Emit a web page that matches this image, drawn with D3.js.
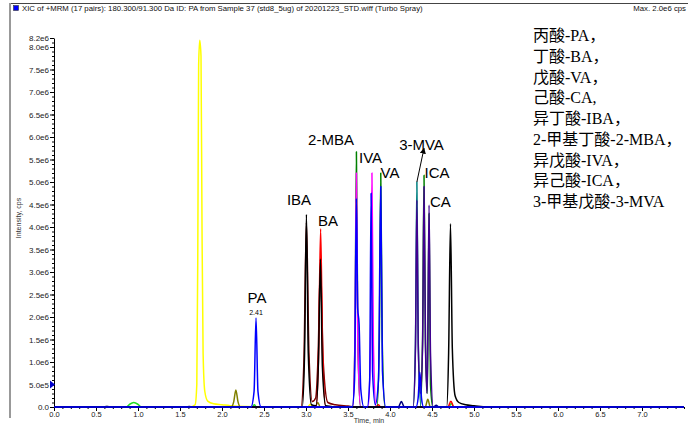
<!DOCTYPE html>
<html>
<head>
<meta charset="utf-8">
<script src="https://cdn.jsdelivr.net/npm/d3@7"></script>
<style>
  body { margin: 0; background: #fff; }
  svg { display: block; }
</style>
</head>
<body>
<svg id="chart" width="688" height="425"></svg>
<script>
// x ticks (min) and y ticks (cps)
var xTickValues = [0, 0.5, 1, 1.5, 2, 2.5, 3, 3.5, 4, 4.5, 5, 5.5, 6, 6.5, 7];
var xTickLabels = ["0.0", "0.5", "1.0", "1.5", "2.0", "2.5", "3.0", "3.5", "4.0", "4.5", "5.0", "5.5", "6.0", "6.5", "7.0"];
var yTickValues = [0, 5e5, 1e6, 1.5e6, 2e6, 2.5e6, 3e6, 3.5e6, 4e6, 4.5e6, 5e6, 5.5e6, 6e6, 6.5e6, 7e6, 7.5e6, 8e6, 8.2e6];
var yTickLabels = ["0.0", "5.0e5", "1.0e6", "1.5e6", "2.0e6", "2.5e6", "3.0e6", "3.5e6", "4.0e6", "4.5e6", "5.0e6", "5.5e6", "6.0e6", "6.5e6", "7.0e6", "7.5e6", "8.0e6", "8.2e6"];

// one XIC trace per colour: [time, intensity]
var grayTrace = [[0,0],[0.6,0],[0.63,0.03e6],[0.66,0],[1.58,0],[1.61,0.02e6],[1.64,0],[7.5,0]];
var yellowTrace = [[0,0],[1.62,0],[1.68,0.05e6],[1.70,0.5e6],[1.712,3.5e6],[1.722,7.6e6],[1.735,8.15e6],[1.75,7.8e6],[1.762,4.0e6],[1.775,1.2e6],[1.795,0.35e6],[1.83,0.13e6],[1.9,0.07e6],[2.0,0.05e6],[2.1,0.03e6],[2.3,0.01e6],[2.5,0],[3.02,0],[3.05,0.06e6],[3.08,0],[7.5,0]];
var oliveTrace = [[0,0],[2.11,0],[2.14,0.12e6],[2.165,0.38e6],[2.19,0.12e6],[2.22,0],[3.11,0],[3.14,0.1e6],[3.17,0],[4.42,0],[4.45,0.17e6],[4.48,0],[7.5,0]];
var limeTrace = [[0,0],[0.86,0],[0.9,0.06e6],[0.95,0.1e6],[1.0,0.06e6],[1.04,0],[2.36,0],[2.385,0.05e6],[2.41,0],[4.70,0],[4.73,0.08e6],[4.76,0],[7.5,0]];
var darkRedTrace = [[0,0],[2.94,0],[2.975,1.0e6],[3.005,4.1e6],[3.035,1.2e6],[3.075,0.12e6],[3.115,0.2e6],[3.145,1.2e6],[3.172,3.2e6],[3.205,1.0e6],[3.26,0.1e6],[3.35,0.05e6],[3.5,0.02e6],[3.6,0],[7.5,0]];
var redTrace = [[0,0],[3.12,0],[3.15,1.2e6],[3.174,3.96e6],[3.198,1.2e6],[3.235,0],[3.83,0],[3.86,0.05e6],[3.89,0],[4.69,0],[4.725,0.13e6],[4.76,0],[7.5,0]];
var greenTrace = [[0,0],[3.555,0],[3.583,1.5e6],[3.60,5.67e6],[3.617,1.5e6],[3.65,0],[3.845,0],[3.873,1.5e6],[3.89,5.2e6],[3.907,1.5e6],[3.94,0],[4.36,0],[4.388,1.5e6],[4.405,5.15e6],[4.422,1.5e6],[4.445,0.3e6],[4.465,4.3e6],[4.482,0.5e6],[4.51,0],[7.5,0]];
var tealTrace = [[0,0],[4.275,0],[4.303,1.4e6],[4.32,5.0e6],[4.337,1.4e6],[4.37,0],[7.5,0]];
var magentaTrace = [[0,0],[3.555,0],[3.583,1.4e6],[3.60,5.2e6],[3.617,1.4e6],[3.65,0],[3.74,0],[3.768,1.4e6],[3.785,5.2e6],[3.802,1.4e6],[3.835,0],[7.5,0]];
var indigoTrace = [[0,0],[4.275,0],[4.303,1.3e6],[4.32,4.6e6],[4.337,1.3e6],[4.362,0.3e6],[4.388,1.4e6],[4.405,4.9e6],[4.422,1.4e6],[4.44,0.3e6],[4.448,1.2e6],[4.465,4.49e6],[4.482,1.2e6],[4.515,0],[7.5,0]];
var navyTrace = [[0,0],[4.10,0],[4.135,0.12e6],[4.17,0],[4.52,0],[4.55,0.04e6],[4.58,0],[7.5,0]];
var blackTrace = [[0,0],[2.955,0],[2.983,1.2e6],[3.005,4.28e6],[3.027,1.2e6],[3.065,0.05e6],[3.12,0.03e6],[3.148,1.0e6],[3.172,3.29e6],[3.195,0.9e6],[3.235,0.03e6],[3.4,0],[4.675,0],[4.698,1.2e6],[4.72,4.07e6],[4.742,1.3e6],[4.775,0.25e6],[4.82,0.1e6],[4.9,0.05e6],[5.0,0.03e6],[5.15,0],[7.5,0]];
var blueTrace = [[0,0],[2.345,0],[2.382,0.35e6],[2.405,1.98e6],[2.428,0.35e6],[2.465,0],[3.55,0],[3.578,0.6e6],[3.60,4.64e6],[3.615,2.2e6],[3.632,1.85e6],[3.652,0.4e6],[3.69,0],[3.73,0],[3.758,0.6e6],[3.775,4.75e6],[3.792,0.8e6],[3.825,0.05e6],[3.863,0.6e6],[3.89,4.9e6],[3.91,0.8e6],[3.95,0],[4.31,0],[4.335,0.2e6],[4.355,0.78e6],[4.375,0.2e6],[4.40,0],[7.5,0]];

var traces = [
  {data: grayTrace, color: "#b0b0b0"},
  {data: yellowTrace, color: "#ffff00"},
  {data: oliveTrace, color: "#808000"},
  {data: limeTrace, color: "#22dd22"},
  {data: darkRedTrace, color: "#800000"},
  {data: redTrace, color: "#ff0000"},
  {data: greenTrace, color: "#008000"},
  {data: tealTrace, color: "#008080"},
  {data: magentaTrace, color: "#ff00ff"},
  {data: indigoTrace, color: "#400090"},
  {data: navyTrace, color: "#000080"},
  {data: blackTrace, color: "#000000"},
  {data: blueTrace, color: "#0000ff"}
];

// peak labels, anchored in data space
var peakLabels = [
  {text: "PA", t: 2.417, v: 2.31e6, size: 15},
  {text: "2.41", t: 2.405, v: 2.04e6, size: 7},
  {text: "IBA", t: 2.917, v: 4.49e6, size: 15},
  {text: "BA", t: 3.262, v: 4.02e6, size: 15},
  {text: "2-MBA", t: 3.298, v: 5.82e6, size: 15},
  {text: "IVA", t: 3.768, v: 5.42e6, size: 15},
  {text: "VA", t: 4.0, v: 5.09e6, size: 15},
  {text: "3-MVA", t: 4.375, v: 5.71e6, size: 15},
  {text: "ICA", t: 4.56, v: 5.09e6, size: 15},
  {text: "CA", t: 4.60, v: 4.44e6, size: 15}
];

var legendLines = ["丙酸-PA，", "丁酸-BA，", "戊酸-VA，", "己酸-CA,", "异丁酸-IBA，", "2-甲基丁酸-2-MBA，", "异戊酸-IVA，", "异己酸-ICA，", "3-甲基戊酸-3-MVA"];

var headerText = "XIC of +MRM (17 pairs): 180.300/91.300 Da ID: PA from Sample 37 (std8_5ug) of 20201223_STD.wiff (Turbo Spray)";
var maxText = "Max. 2.0e6 cps";

var svg = d3.select("#chart");
var sans = "'Liberation Sans', Arial, sans-serif";

var x = d3.scaleLinear().domain([0, 7.5]).range([54, 684]);
var y = d3.scaleLinear().domain([0, 8.2e6]).range([407, 38]);

// frame + header
svg.append("line").attr("x1", 10).attr("x2", 688).attr("y1", 3.5).attr("y2", 3.5)
  .attr("stroke", "#444").attr("stroke-width", 1);
svg.append("rect").attr("x", 9).attr("y", 3).attr("width", 2).attr("height", 415).attr("fill", "#999");
svg.append("rect").attr("x", 13.5).attr("y", 5.5).attr("width", 5).attr("height", 5)
  .attr("fill", "#0000ff").attr("stroke", "#333").attr("stroke-width", 0.6);

var head = svg.append("text").attr("x", 22).attr("y", 11)
  .attr("font-family", sans).attr("font-size", 7).attr("fill", "#111").text(headerText);
var hw = head.node().getComputedTextLength();
head.attr("font-size", 7 * 401 / hw);
svg.append("text").attr("x", 686).attr("y", 11).attr("text-anchor", "end")
  .attr("font-family", sans).attr("font-size", 7 * 401 / hw).attr("fill", "#111").text(maxText);

// axes
var xMinor = d3.range(0, 76).map(function(i) { return i / 10; });
var yMinor = d3.range(0, 83).map(function(i) { return i * 1e5; });

svg.append("g").attr("transform", "translate(0,407)")
  .call(d3.axisBottom(x).tickValues(xMinor).tickSize(2).tickFormat("").tickSizeOuter(0))
  .call(function(g) { g.select(".domain").remove(); });
var gx = svg.append("g").attr("transform", "translate(0,407)")
  .call(d3.axisBottom(x).tickValues(xTickValues)
    .tickFormat(function(d, i) { return xTickLabels[i]; })
    .tickSize(4).tickPadding(1).tickSizeOuter(0));
gx.selectAll("text").attr("font-family", sans).attr("font-size", 7.5).attr("fill", "#222");

svg.append("g").attr("transform", "translate(54,0)")
  .call(d3.axisLeft(y).tickValues(yMinor).tickSize(2).tickFormat("").tickSizeOuter(0))
  .call(function(g) { g.select(".domain").remove(); });
var gy = svg.append("g").attr("transform", "translate(54,0)")
  .call(d3.axisLeft(y).tickValues(yTickValues)
    .tickFormat(function(d, i) { return yTickLabels[i]; })
    .tickSize(4).tickPadding(1).tickSizeOuter(0));
gy.selectAll("text").attr("font-family", sans).attr("font-size", 8).attr("fill", "#222");

svg.append("text").attr("transform", "translate(21,218) rotate(-90)").attr("text-anchor", "middle")
  .attr("font-family", sans).attr("font-size", 7).attr("fill", "#333").text("Intensity, cps");
svg.append("text").attr("x", 369).attr("y", 423).attr("text-anchor", "middle")
  .attr("font-family", sans).attr("font-size", 7).attr("fill", "#333").text("Time, min");

// traces
var line = d3.line()
  .x(function(d) { return x(d[0]); })
  .y(function(d) { return y(d[1]); })
  .curve(d3.curveMonotoneX);

svg.append("g").selectAll("path").data(traces).enter().append("path")
  .attr("d", function(d) { return line(d.data); })
  .attr("fill", "none")
  .attr("stroke", function(d) { return d.color; })
  .attr("stroke-width", 1.5)
  .attr("stroke-linejoin", "round");

// threshold marker on y axis
var ty = y(5e5);
svg.append("path").attr("d", "M50," + (ty - 4) + "L55," + ty + "L50," + (ty + 4) + "Z").attr("fill", "#0000cc");

// peak labels
svg.append("g").selectAll("text").data(peakLabels).enter().append("text")
  .attr("x", function(d) { return x(d.t); })
  .attr("y", function(d) { return y(d.v); })
  .attr("text-anchor", "middle")
  .attr("font-family", sans)
  .attr("font-size", function(d) { return d.size; })
  .attr("fill", "#000")
  .text(function(d) { return d.text; });

// arrow to 3-MVA
svg.append("defs").append("marker").attr("id", "arrow").attr("viewBox", "0 0 10 10")
  .attr("refX", 9).attr("refY", 5).attr("markerWidth", 6).attr("markerHeight", 6).attr("orient", "auto")
  .append("path").attr("d", "M0,0L10,5L0,10Z").attr("fill", "#000");
svg.append("line")
  .attr("x1", x(4.32)).attr("y1", y(5.0e6))
  .attr("x2", x(4.405)).attr("y2", y(5.75e6))
  .attr("stroke", "#000").attr("stroke-width", 1).attr("marker-end", "url(#arrow)");

// compound legend
svg.append("g").selectAll("text").data(legendLines).enter().append("text")
  .attr("x", 533)
  .attr("y", function(d, i) { return 41 + i * 20.75; })
  .attr("font-family", "'Liberation Serif', 'Noto Sans CJK SC', serif")
  .attr("font-size", 16)
  .attr("fill", "#000")
  .text(function(d) { return d; });
</script>
</body>
</html>
